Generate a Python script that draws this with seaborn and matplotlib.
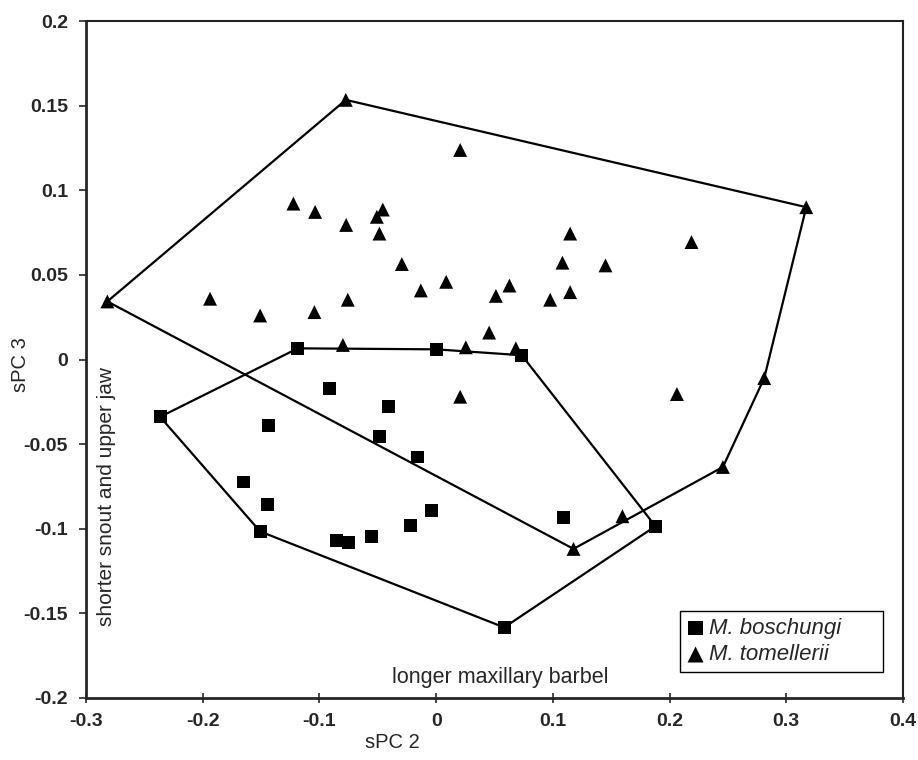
import matplotlib
matplotlib.use("Agg")
import matplotlib.pyplot as plt
import seaborn as sns
import numpy as np
import pandas as pd
from matplotlib.ticker import FuncFormatter

# sPC 2 / sPC 3 scores
bosch_x = [-0.2365, -0.1185, 0.0000, 0.0734, -0.0914, -0.0409, -0.1437, -0.0488,
           -0.0157, -0.1651, -0.1442, -0.1508, -0.0857, -0.0752, -0.0557, -0.0223,
           -0.0037, 0.1091, 0.1879, 0.0583]
bosch_y = [-0.0339, 0.0066, 0.0060, 0.0025, -0.0171, -0.0280, -0.0388, -0.0457,
           -0.0576, -0.0724, -0.0858, -0.1016, -0.1070, -0.1081, -0.1046, -0.0981,
           -0.0892, -0.0935, -0.0985, -0.1583]

tom_x = [-0.2817, -0.0774, 0.0206, 0.3171, -0.1223, -0.1037, -0.0771, -0.0508,
         -0.0457, -0.0486, -0.0294, -0.0131, 0.0086, -0.1937, -0.1508, -0.1043,
         -0.0757, -0.0799, 0.0254, 0.1148, 0.2188, 0.1082, 0.1451, 0.0628,
         0.0512, 0.1148, 0.0977, 0.0454, 0.0683, 0.2811, 0.0206, 0.2063,
         0.2457, 0.1596, 0.1177]
tom_y = [0.0343, 0.1534, 0.1238, 0.0900, 0.0921, 0.0872, 0.0795, 0.0843,
         0.0886, 0.0744, 0.0564, 0.0408, 0.0459, 0.0359, 0.0260, 0.0280,
         0.0353, 0.0086, 0.0072, 0.0744, 0.0694, 0.0572, 0.0556, 0.0437,
         0.0376, 0.0398, 0.0353, 0.0159, 0.0066, -0.0110, -0.0220, -0.0204,
         -0.0635, -0.0926, -0.1119]

species = ["M. boschungi", "M. tomellerii"]

df = pd.DataFrame({
    "sPC2": bosch_x + tom_x,
    "sPC3": bosch_y + tom_y,
    "species": [species[0]] * len(bosch_x) + [species[1]] * len(tom_x),
})


# convex hull (monotone chain) round each species
def convex_hull(xs, ys):
    pts = sorted(set(zip(xs, ys)))

    def cross(o, a, b):
        return (a[0] - o[0]) * (b[1] - o[1]) - (a[1] - o[1]) * (b[0] - o[0])

    lower = []
    for p in pts:
        while len(lower) >= 2 and cross(lower[-2], lower[-1], p) <= 0:
            lower.pop()
        lower.append(p)
    upper = []
    for p in reversed(pts):
        while len(upper) >= 2 and cross(upper[-2], upper[-1], p) <= 0:
            upper.pop()
        upper.append(p)
    hull = lower[:-1] + upper[:-1]
    hull.append(hull[0])
    return [p[0] for p in hull], [p[1] for p in hull]


sns.set_style("ticks")
plt.rcParams["font.family"] = ["Liberation Sans", "DejaVu Sans"]
plt.rcParams["axes.unicode_minus"] = False

fig = plt.figure(figsize=(9.18, 7.6), dpi=100)
ax = fig.add_axes([86 / 918, 62 / 760, 817 / 918, 677 / 760])

for xs, ys in [(bosch_x, bosch_y), (tom_x, tom_y)]:
    hx, hy = convex_hull(xs, ys)
    ax.plot(hx, hy, color="black", lw=1.6, zorder=2)

markers = {species[0]: "s", species[1]: "^"}
sizes = {species[0]: 85, species[1]: 100}
for sp in species:
    sub = df[df["species"] == sp]
    sns.scatterplot(data=sub, x="sPC2", y="sPC3", marker=markers[sp], s=sizes[sp],
                    color="black", edgecolor="none", label=sp, ax=ax, zorder=3)

ax.set_xlim(-0.3, 0.4)
ax.set_ylim(-0.2, 0.2)
ax.set_xticks(np.arange(-0.3, 0.41, 0.1))
ax.set_yticks(np.arange(-0.2, 0.201, 0.05))
fmt = FuncFormatter(lambda v, p: "%g" % (round(v, 2) + 0.0))
ax.xaxis.set_major_formatter(fmt)
ax.yaxis.set_major_formatter(fmt)
ax.tick_params(axis="x", direction="inout", length=7, width=1.2, pad=7,
               labelsize=14)
ax.tick_params(axis="y", direction="out", length=5, width=1.2, pad=8,
               labelsize=14)
for lab in ax.get_xticklabels() + ax.get_yticklabels():
    lab.set_fontweight("bold")

for side in ["left", "bottom"]:
    ax.spines[side].set_linewidth(2)
for side in ["top", "right"]:
    ax.spines[side].set_linewidth(1.5)
    ax.spines[side].set_color("#222222")

ax.set_xlabel("")
ax.set_ylabel("")
fig.text(392 / 918, 1 - 742 / 760, "sPC 2", ha="center", va="center", fontsize=14.5)
fig.text(20 / 918, 1 - 365 / 760, "sPC 3", ha="center", va="center",
         rotation=90, fontsize=14.5)

ax.text((107 - 86) / 817, (698 - 497) / 677, "shorter snout and upper jaw",
        transform=ax.transAxes, rotation=90, ha="center", va="center", fontsize=15)
ax.text((500 - 86) / 817, (698 - 678) / 677, "longer maxillary barbel",
        transform=ax.transAxes, ha="center", va="center", fontsize=15.5)

leg = ax.legend(loc="lower left",
                bbox_to_anchor=((680 - 86) / 817, (698 - 672) / 677, (883 - 680) / 817, 0.08),
                mode="expand",
                prop={"style": "italic", "size": 16}, frameon=True, fancybox=False,
                edgecolor="black", framealpha=1, handlelength=0.8, markerscale=1.15,
                handletextpad=0.2, labelspacing=0.25, borderpad=0.3,
                borderaxespad=0)
leg.get_frame().set_linewidth(1.0)

fig.savefig("out.png", dpi=100, facecolor="white")
